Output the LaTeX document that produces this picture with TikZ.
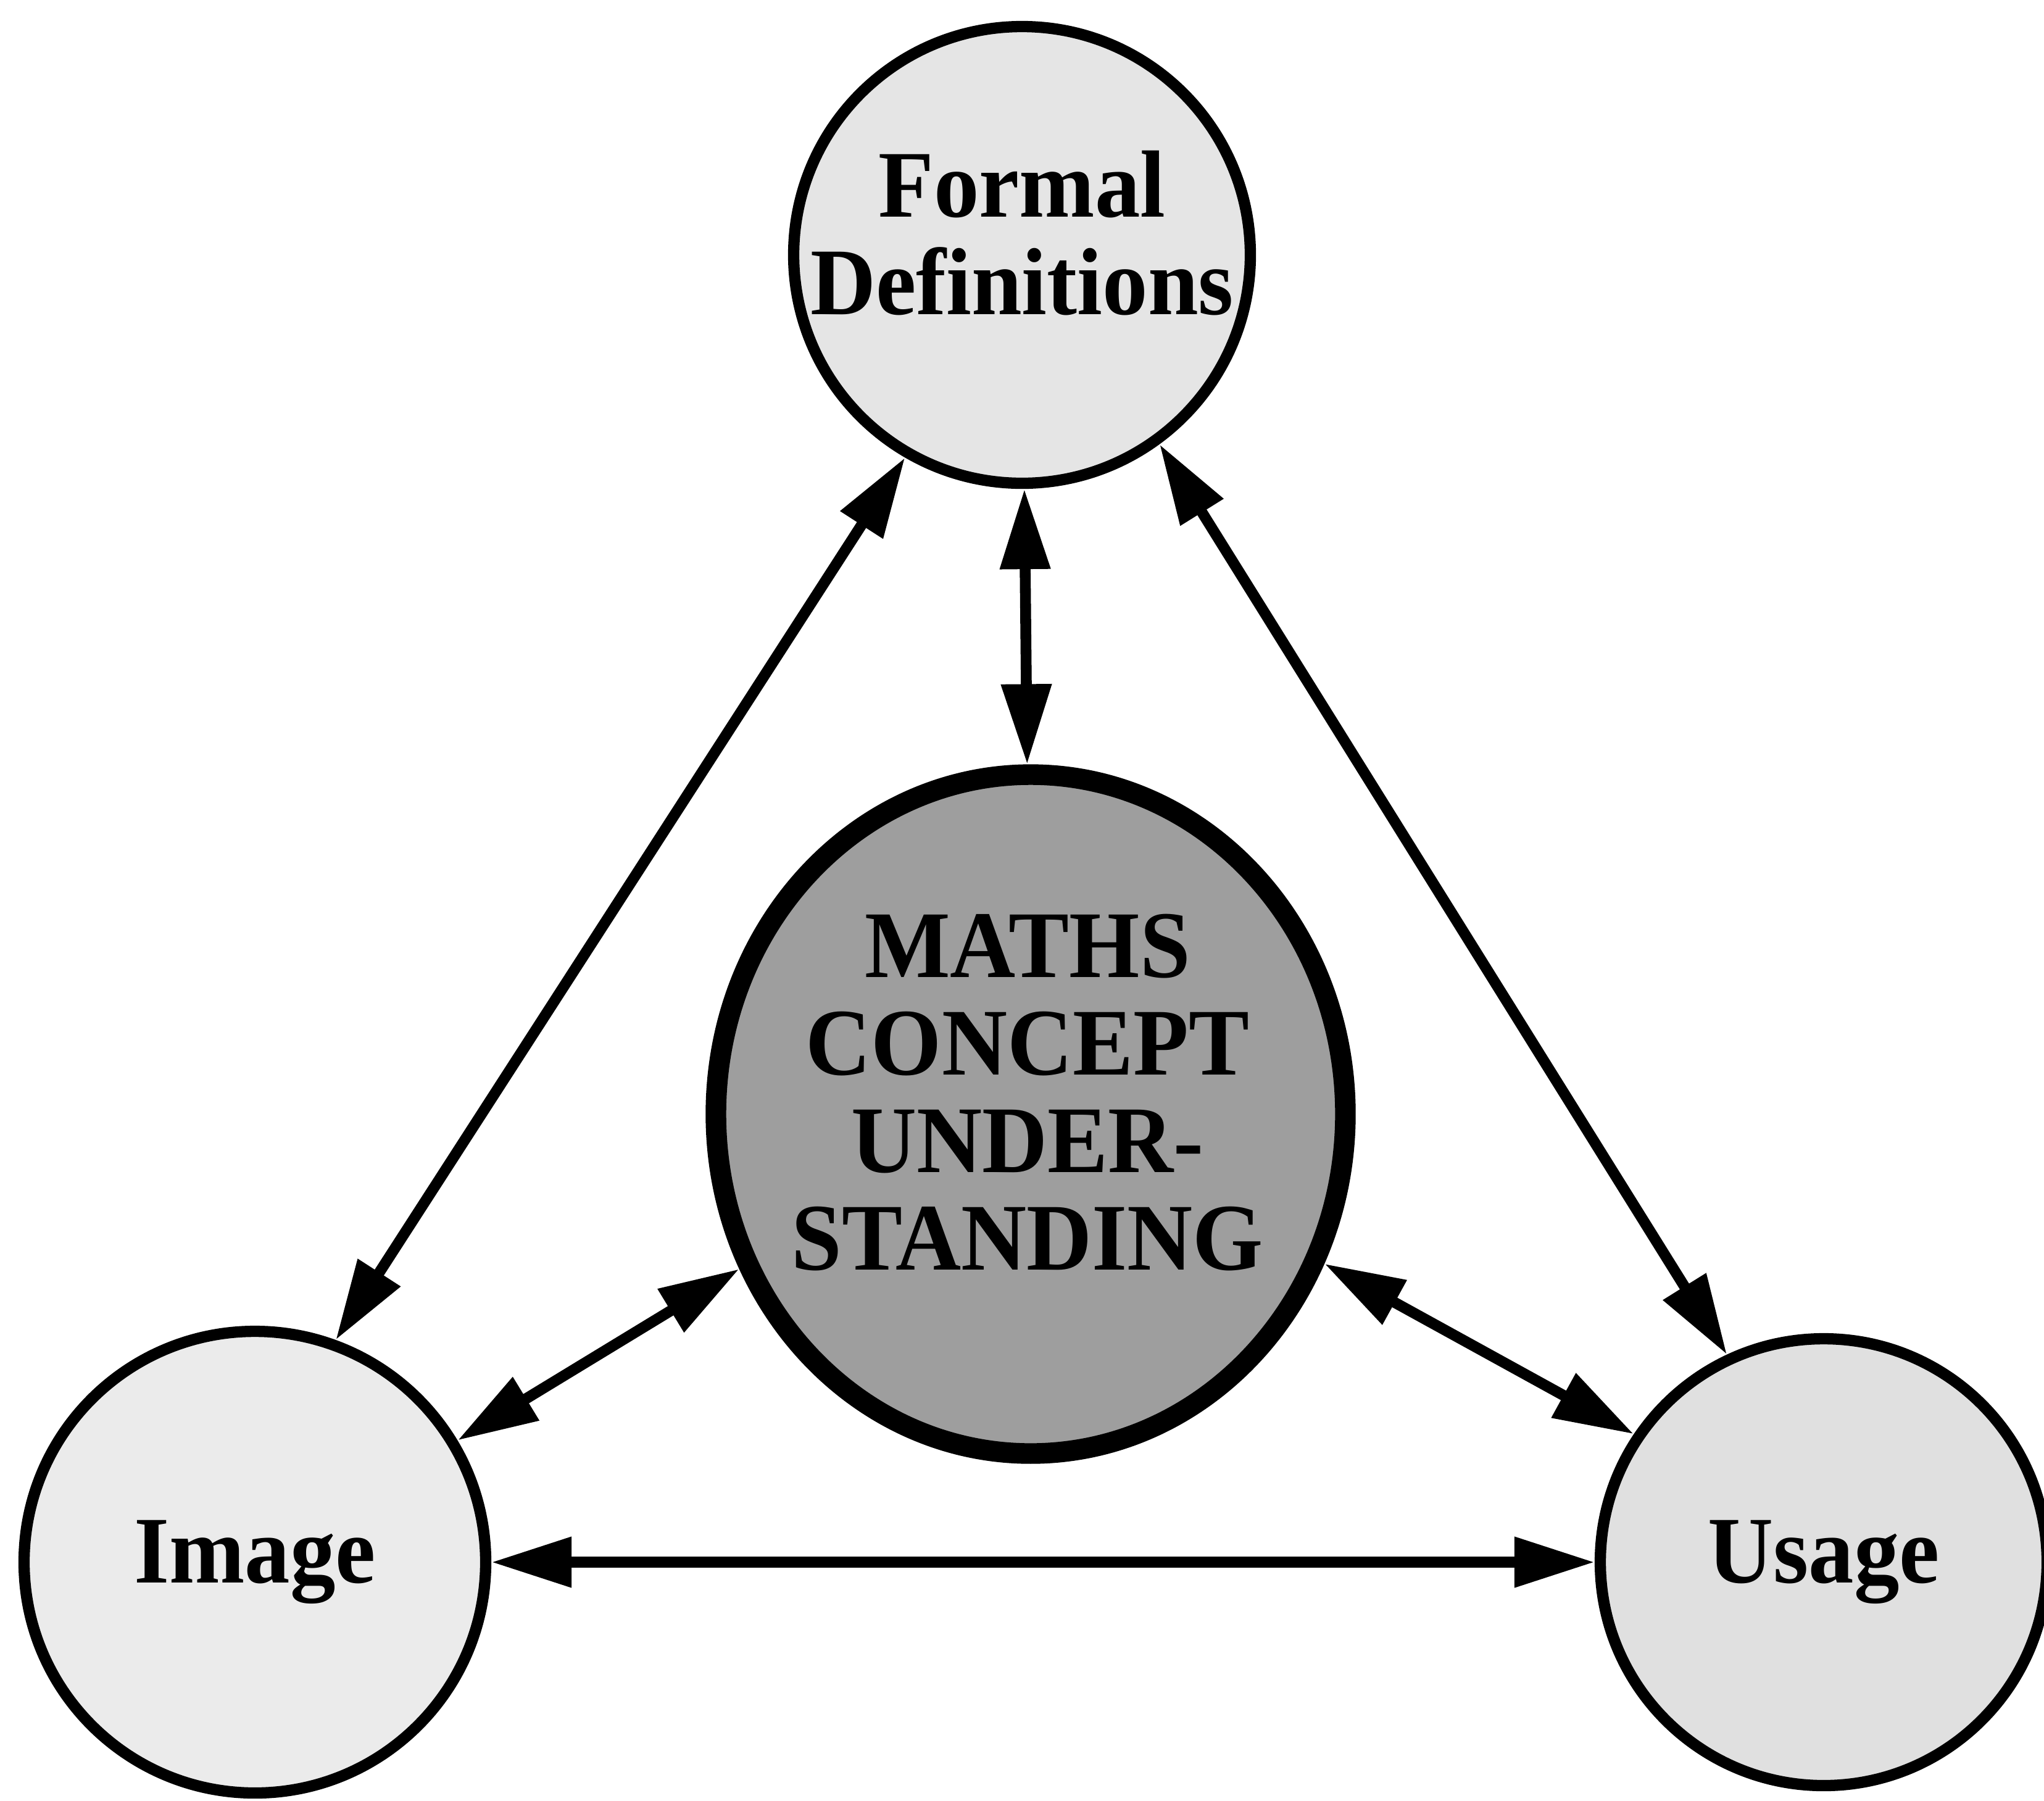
\documentclass[tikz,border=0pt]{standalone}
\usepackage{fontspec}
\setmainfont{Liberation Serif}
\newfontfamily\labfont[FakeStretch=0.95]{Liberation Serif}
\usetikzlibrary{arrows.meta,shapes.geometric}
\definecolor{cfill}{gray}{0.62}
\definecolor{ffill}{gray}{0.90}
\definecolor{ifill}{gray}{0.92}
\definecolor{ufill}{gray}{0.88}
\begin{document}
\begin{tikzpicture}[
  lbl/.style={font=\labfont\bfseries\fontsize{44}{45}\selectfont, align=center, inner sep=0pt, text=black},
  outerc/.style={circle, draw=black, line width=5.2pt, inner sep=0pt, lbl},
  centrec/.style={ellipse, draw=black, line width=9.5pt, inner sep=0pt, fill=cfill},
  link/.style={line width=5pt, {Triangle[length=1.3cm,width=0.78cm]}-{Triangle[length=1.3cm,width=0.78cm]}}
]
\useasboundingbox (0,0) rectangle (33.12,-29.17);
\node[outerc, fill=ffill, minimum size=7.4cm] (F) at (16.56,-4.13) {};
\node[lbl] (Ft) at (16.56,-3.78) {Formal\\Definitions};
\node[centrec, minimum width=10.2cm, minimum height=11.0cm] (C) at (16.70,-18.05) {};
\node[lbl] (Ct) at (16.65,-17.70) {MATHS\\CONCEPT\\UNDER-\\STANDING};
\node[outerc, fill=ifill, minimum size=7.48cm] (I) at (4.13,-25.31) {Image};
\node[outerc, fill=ufill, minimum size=7.24cm] (U) at (29.55,-25.31) {Usage};
\draw[link] (F) -- (C);
\draw[link] (F.240.5) -- (I.70);
\draw[link] (F.306) -- (U.115);
\draw[link] (C.208) -- (I.31);
\draw[link] (C.333) -- (U.146);
\draw[link] (I.east) -- (U.west);
\end{tikzpicture}
\end{document}
